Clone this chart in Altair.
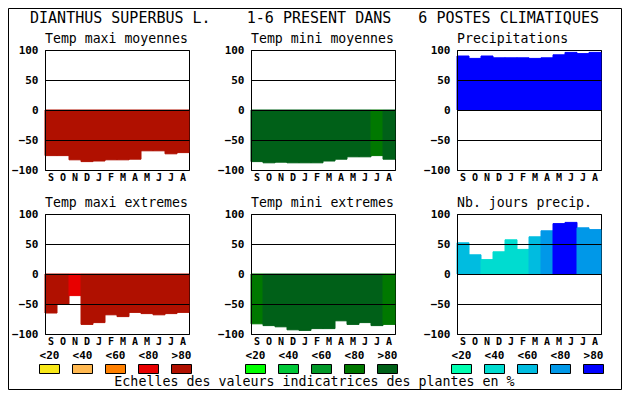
import altair as alt
import pandas as pd

# ---------------- data ----------------
MONTHS = ["S", "O", "N", "D", "J", "F", "M", "A", "M", "J", "J", "A"]
CLASS_LABELS = ["<20", "<40", "<60", "<80", ">80"]

RED = ["#f8e818", "#ffb850", "#ff8000", "#e80000", "#b01000"]
GREEN = ["#00ff00", "#00c838", "#009828", "#007800", "#006018"]
BLUE = ["#00ffb0", "#00dcd0", "#00bce0", "#0098e8", "#0000ff"]

NB = "\u00a0"
HEADER = ("DIANTHUS SUPERBUS L." + NB * 4 + "1-6 PRESENT DANS" + NB * 3
          + "6 POSTES CLIMATIQUES").replace(" ", NB)
FOOTER = "Echelles des valeurs indicatrices des plantes en %"

TITLES = ["Temp maxi moyennes", "Temp mini moyennes", "Precipitations",
          "Temp maxi extremes", "Temp mini extremes", "Nb. jours precip."]

TMAX_MOY = [-76, -76, -83, -86, -85, -83, -83, -82, -68, -68, -73, -71]
TMIN_MOY = [-86, -88, -87, -88, -88, -88, -85, -82, -78, -78, -76, -82]
PRECIP = [90, 86, 90, 87, 87, 87, 86, 87, 92, 96, 94, 96]
TMAX_EXT = [-65, -50, -36, -84, -81, -68, -71, -64, -66, -68, -66, -64]
TMIN_EXT = [-83, -86, -88, -93, -94, -91, -91, -78, -84, -81, -86, -84]
NB_JOURS = [52, 32, 24, 37, 57, 41, 62, 72, 84, 86, 77, 74]

# class index (0: <20 ... 4: >80) of each bar
TMAX_MOY_CLS = [4, 4, 4, 4, 4, 4, 4, 4, 4, 4, 4, 4]
TMIN_MOY_CLS = [4, 4, 4, 4, 4, 4, 4, 4, 4, 4, 3, 4]
PRECIP_CLS = [4, 4, 4, 4, 4, 4, 4, 4, 4, 4, 4, 4]
TMAX_EXT_CLS = [4, 4, 3, 4, 4, 4, 4, 4, 4, 4, 4, 4]
TMIN_EXT_CLS = [3, 4, 4, 4, 4, 4, 4, 4, 4, 4, 4, 3]
NB_JOURS_CLS = [2, 2, 1, 1, 1, 1, 2, 3, 4, 4, 3, 3]

# ---------------- styling ----------------
MONO = "DejaVu Sans Mono"
KEYS = [f"{f}{i}" for f in "rgb" for i in range(5)]
COLOR_SCALE = alt.Scale(domain=KEYS, range=RED + GREEN + BLUE)
MONTH_EXPR = "[" + ",".join(f"'{m}'" for m in MONTHS) + "][datum.value]"


def panel(title, values, classes, fam):
    df = pd.DataFrame({"idx": list(range(len(values))), "value": values,
                       "key": [f"{fam}{c}" for c in classes]})
    return alt.Chart(df).mark_bar(strokeWidth=1).encode(
        x=alt.X("idx:O", scale=alt.Scale(paddingInner=0, paddingOuter=0),
                axis=alt.Axis(title=None, labelExpr=MONTH_EXPR, labelAngle=0,
                              ticks=False, domain=False, labelFont=MONO,
                              labelFontWeight="bold", labelFontSize=10,
                              labelColor="black", labelPadding=2)),
        y=alt.Y("value:Q", scale=alt.Scale(domain=[-100, 100], nice=False, zero=False),
                axis=alt.Axis(title=None, values=[-100, -50, 0, 50, 100], grid=True,
                              gridColor="black", gridOpacity=1, gridWidth=1,
                              ticks=False, domain=True, domainColor="black",
                              labelFont=MONO, labelFontWeight="bold", labelFontSize=11,
                              labelColor="black", labelPadding=7, zindex=1)),
        y2=alt.datum(0),
        color=alt.Color("key:N", scale=COLOR_SCALE, legend=None),
        stroke=alt.Stroke("key:N", scale=COLOR_SCALE, legend=None),
    ).properties(
        width=144, height=120,
        title=alt.TitleParams(title, anchor="start", frame="group", font=MONO,
                              fontSize=13.2, fontWeight="normal", color="black",
                              baseline="alphabetic", offset=-12),
        view=alt.ViewBackground(stroke="black", strokeWidth=1),
    )


def legend(fam):
    df = pd.DataFrame({"cls": CLASS_LABELS, "key": [f"{fam}{i}" for i in range(5)]})
    return alt.Chart(df).mark_rect(stroke="black", strokeWidth=1).encode(
        x=alt.X("cls:N", sort=CLASS_LABELS,
                scale=alt.Scale(range=[-5.5, 146.5], paddingInner=0.394, paddingOuter=0),
                axis=alt.Axis(orient="top", offset=14, title=None, domain=False, ticks=False,
                              labelAngle=0, labelFont=MONO, labelFontWeight="bold",
                              labelFontSize=11, labelColor="black", labelPadding=4)),
        y=alt.value(-13.5), y2=alt.value(-4.5),
        color=alt.Color("key:N", scale=COLOR_SCALE, legend=None),
    )


p1 = panel(TITLES[0], TMAX_MOY, TMAX_MOY_CLS, "r")
p2 = panel(TITLES[1], TMIN_MOY, TMIN_MOY_CLS, "g")
p3 = panel(TITLES[2], PRECIP, PRECIP_CLS, "b")
p4 = panel(TITLES[3], TMAX_EXT, TMAX_EXT_CLS, "r")
p5 = panel(TITLES[4], TMIN_EXT, TMIN_EXT_CLS, "g")
p6 = panel(TITLES[5], NB_JOURS, NB_JOURS_CLS, "b")

header = alt.Chart(pd.DataFrame({"t": [HEADER]})).mark_text(
    font=MONO, fontSize=15, align="center", baseline="alphabetic", color="black"
).encode(text="t:N", x=alt.value(269.5), y=alt.value(-355.3))

footer = alt.Chart(pd.DataFrame({"t": [FOOTER]})).mark_text(
    font=MONO, fontSize=13.3, align="center", baseline="alphabetic", color="black"
).encode(text="t:N", x=alt.value(269.5), y=alt.value(8))

frame = alt.Chart(pd.DataFrame({"f": [0]})).mark_rect(
    fill="transparent", stroke="black", strokeWidth=1
).encode(x=alt.value(-36.5), x2=alt.value(576.5), y=alt.value(-369.5), y2=alt.value(11.5))

l1 = alt.layer(legend("r"), header, footer, frame).properties(
    width=144, height=1, view=alt.ViewBackground(strokeWidth=0))
l2 = legend("g").properties(width=144, height=1, view=alt.ViewBackground(strokeWidth=0))
l3 = legend("b").properties(width=144, height=1, view=alt.ViewBackground(strokeWidth=0))

chart = alt.concat(
    p1, p2, p3, p4, p5, p6, l1, l2, l3,
    columns=3, spacing=alt.RowColnumber(row=44, column=62), bounds="flush",
).properties(
    padding=0, autosize=alt.AutoSizeParams(type="pad"), background="white"
).configure_view(strokeWidth=0)

chart.save("out.html", embed_options={"renderer": "svg", "actions": False})
